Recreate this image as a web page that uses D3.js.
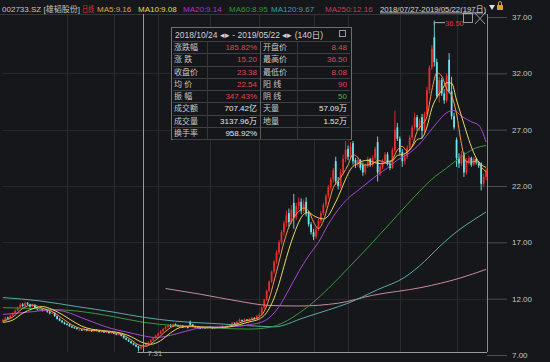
<!DOCTYPE html>
<html><head><meta charset="utf-8">
<script src="https://cdn.jsdelivr.net/npm/d3@7"></script>
<style>
html,body{margin:0;padding:0;background:#16171b;overflow:hidden;}
svg{display:block;}
text{font-family:"Liberation Sans","Noto Sans CJK SC",sans-serif;}
</style></head><body>
<svg id="c" width="550" height="362"></svg>
<script>
// ---------- DATA ----------
const opens = [
10.00,10.10,10.35,10.25,10.50,10.70,10.95,11.20,11.50,11.35,
11.60,11.50,11.30,11.45,11.20,11.00,11.10,10.95,11.00,10.85,
10.70,10.75,10.45,10.20,10.05,9.90,9.75,9.70,9.55,9.45,
9.40,9.20,9.25,9.20,9.30,9.15,9.20,9.10,9.25,9.15,
9.05,9.10,9.00,9.05,8.95,9.00,8.90,8.80,8.85,8.70,
8.50,8.35,8.20,8.05,7.90,7.75,7.55,7.70,7.85,8.00,
8.10,8.30,8.50,8.70,8.90,9.10,9.30,9.50,9.65,9.55,
9.75,9.65,9.55,9.60,9.45,9.50,9.95,9.70,9.55,9.45,
9.40,9.35,9.45,9.40,9.50,9.45,9.35,9.40,9.50,9.55,
9.45,9.50,9.60,9.70,9.85,9.80,9.95,10.10,10.00,10.15,
10.05,10.20,10.30,10.25,10.45,10.60,11.20,11.90,12.70,13.50,
14.40,15.30,16.10,17.00,17.90,18.70,19.60,18.80,20.50,19.20,
20.20,20.60,19.80,20.60,19.60,18.60,17.90,17.50,18.20,18.90,
19.60,20.30,21.10,21.90,22.60,24.20,22.40,22.00,23.20,24.40,
25.30,24.60,25.80,24.30,24.00,24.30,23.90,23.20,23.80,24.40,
23.90,24.50,25.90,23.20,23.70,24.20,24.80,24.00,23.60,25.20,
27.20,26.20,25.00,24.20,24.60,25.40,26.30,27.20,28.10,27.20,
28.10,26.90,28.40,30.50,32.50,35.20,33.00,30.00,31.40,30.20,
29.60,33.20,30.40,28.20,26.10,24.50,24.00,24.90,23.20,24.20,
24.50,23.90,24.40,24.10,24.00,22.20,22.80];
const highs = [
10.20,10.40,10.40,10.60,10.80,11.05,11.30,11.60,11.60,11.75,
11.70,11.55,11.55,11.50,11.25,11.20,11.15,11.10,11.05,10.90,
10.85,10.80,10.50,10.30,10.10,9.95,9.85,9.75,9.60,9.50,
9.45,9.35,9.30,9.40,9.35,9.25,9.25,9.30,9.30,9.20,
9.15,9.15,9.10,9.10,9.05,9.05,8.95,8.90,8.90,8.75,
8.55,8.40,8.25,8.10,7.95,7.80,7.80,7.95,8.10,8.20,
8.40,8.60,8.80,9.00,9.20,9.40,9.60,9.70,9.75,9.80,
9.80,9.70,9.70,9.65,9.55,9.55,10.05,9.75,9.60,9.50,
9.45,9.50,9.50,9.55,9.55,9.50,9.45,9.55,9.60,9.60,
9.55,9.65,9.75,9.95,9.90,10.05,10.25,10.15,10.25,10.20,
10.30,10.40,10.35,10.55,10.70,11.30,12.00,12.80,13.60,14.50,
15.40,16.30,17.20,18.10,18.90,19.80,20.00,20.30,21.30,20.50,
21.00,20.90,20.80,21.00,19.80,18.80,18.20,18.40,19.10,19.80,
20.50,21.30,22.10,22.80,23.60,24.60,22.80,23.50,24.80,26.00,
25.60,25.90,26.00,24.50,24.60,24.40,24.10,24.00,24.60,24.50,
24.70,25.50,26.40,23.90,24.40,25.00,25.00,24.20,25.40,28.70,
27.60,26.40,25.30,24.90,25.60,26.50,27.40,28.50,28.30,28.00,
28.40,28.60,30.80,32.70,34.50,36.50,33.30,31.70,31.60,30.60,
32.00,33.80,31.70,28.50,26.30,24.90,25.10,25.00,24.50,24.70,
24.60,24.60,24.50,24.20,24.10,23.10,23.60];
const lows = [
9.90,10.05,10.15,10.20,10.45,10.65,10.90,11.15,11.25,11.30,
11.40,11.20,11.25,11.15,10.95,10.95,10.85,10.90,10.75,10.60,
10.65,10.40,10.15,10.00,9.85,9.70,9.65,9.50,9.40,9.35,
9.25,9.15,9.15,9.15,9.10,9.10,9.05,9.05,9.10,9.00,
9.00,8.95,8.95,8.90,8.90,8.85,8.75,8.75,8.65,8.45,
8.30,8.15,8.00,7.85,7.70,7.31,7.50,7.65,7.80,7.95,
8.05,8.25,8.45,8.65,8.85,9.05,9.25,9.40,9.45,9.50,
9.60,9.50,9.50,9.40,9.40,9.35,9.60,9.50,9.40,9.35,
9.30,9.30,9.35,9.35,9.40,9.30,9.30,9.35,9.45,9.40,
9.40,9.45,9.55,9.65,9.70,9.75,9.90,9.95,9.95,10.00,
10.00,10.15,10.15,10.20,10.40,10.55,11.10,11.80,12.60,13.40,
14.20,15.10,15.90,16.80,17.60,18.40,18.40,18.60,18.20,19.00,
19.90,19.50,19.60,19.30,18.40,17.70,17.20,17.30,18.00,18.70,
19.40,20.10,20.90,21.60,22.30,22.10,21.70,21.80,23.00,24.10,
24.30,24.40,23.90,23.60,23.70,23.40,22.90,23.00,23.60,23.70,
23.70,24.30,22.40,22.90,23.50,24.00,23.80,23.40,23.50,25.00,
26.00,24.80,23.70,23.90,24.40,25.20,26.10,27.00,26.90,26.90,
26.20,26.70,28.20,30.20,32.30,32.60,29.80,29.40,30.00,29.30,
29.40,30.20,27.90,27.00,23.70,23.60,23.80,22.80,23.00,23.90,
23.70,23.80,23.90,23.60,21.60,21.90,22.50];
const closes = [
10.10,10.30,10.25,10.50,10.70,10.95,11.20,11.45,11.35,11.60,
11.50,11.30,11.45,11.20,11.05,11.10,10.95,11.00,10.85,10.70,
10.75,10.45,10.20,10.05,9.90,9.75,9.70,9.55,9.45,9.40,
9.30,9.25,9.20,9.30,9.15,9.20,9.10,9.25,9.15,9.05,
9.10,9.00,9.05,8.95,9.00,8.90,8.80,8.85,8.70,8.50,
8.35,8.20,8.05,7.90,7.75,7.60,7.70,7.85,8.00,8.10,
8.30,8.50,8.70,8.90,9.10,9.30,9.50,9.60,9.55,9.70,
9.65,9.55,9.60,9.45,9.50,9.40,9.70,9.55,9.45,9.40,
9.35,9.45,9.40,9.50,9.45,9.35,9.40,9.50,9.55,9.45,
9.50,9.60,9.70,9.85,9.80,9.95,10.10,10.00,10.15,10.05,
10.20,10.30,10.25,10.45,10.60,11.20,11.90,12.70,13.50,14.40,
15.30,16.10,17.00,17.90,18.70,19.40,18.80,19.90,19.20,20.20,
20.60,19.80,20.40,19.60,18.60,17.90,17.50,18.20,18.90,19.60,
20.30,21.10,21.90,22.60,23.40,22.40,22.00,23.20,24.40,25.20,
24.60,25.50,24.20,24.00,24.30,23.60,23.20,23.80,24.40,23.90,
24.50,25.30,23.20,23.70,24.20,24.80,24.00,23.60,25.20,27.00,
26.20,25.00,24.20,24.60,25.40,26.30,27.20,28.10,27.20,27.80,
26.90,28.40,30.50,32.50,34.20,33.00,30.00,31.40,30.20,29.60,
31.80,30.40,28.20,27.20,24.50,24.00,24.80,23.20,24.20,24.50,
23.90,24.40,24.10,23.80,22.20,22.80,23.38];

// moving-average lines: [day index, value]
const ma5 = [[0,10.0],[4,10.37],[8,11.13],[12,11.44],[16,11.15],[20,10.85],[24,10.27],[28,9.67],[32,9.32],[36,9.19],[40,9.13],[44,9.02],[48,8.85],[52,8.36],[55,7.9],[58,7.78],[62,8.32],[66,9.1],[70,9.6],[74,9.55],[78,9.52],[82,9.41],[86,9.42],[90,9.48],[94,9.69],[98,10.0],[102,10.19],[104,10.36],[106,10.88],[108,11.98],[110,13.56],[112,15.26],[114,17.0],[116,18.36],[118,19.2],[120,19.74],[122,20.04],[124,19.8],[126,18.8],[128,18.22],[130,18.9],[132,20.36],[134,21.86],[136,22.46],[138,23.08],[140,23.88],[142,24.78],[144,24.52],[146,23.86],[148,23.86],[150,23.96],[152,24.26],[154,24.18],[156,23.98],[158,24.36],[160,25.2],[162,25.52],[164,25.08],[166,25.54],[168,26.84],[170,27.44],[172,28.16],[174,30.5],[176,32.04],[178,31.76],[180,30.6],[182,30.04],[184,28.42],[186,25.74],[188,24.14],[190,24.12],[192,24.22],[194,23.68],[196,23.26]];
const ma10 = [[0,9.9],[4,10.1],[8,10.7],[12,11.1],[16,11.3],[20,11.04],[24,10.6],[28,10.05],[32,9.56],[36,9.29],[40,9.18],[44,9.09],[48,8.94],[52,8.63],[56,8.16],[60,7.95],[64,8.28],[68,8.96],[72,9.45],[76,9.57],[80,9.5],[84,9.47],[88,9.44],[92,9.5],[96,9.7],[100,9.94],[104,10.2],[106,10.51],[108,11.12],[110,12.06],[112,13.32],[114,14.87],[116,16.38],[118,17.67],[120,18.78],[122,19.49],[124,19.65],[126,19.37],[128,19.17],[130,19.08],[132,19.36],[134,20.14],[136,21.04],[138,22.09],[140,23.08],[142,23.75],[144,23.98],[146,24.22],[148,24.28],[150,24.14],[152,24.02],[154,23.98],[156,24.18],[158,24.24],[160,24.72],[162,24.79],[164,25.0],[166,25.47],[168,26.12],[170,26.27],[172,27.24],[174,28.91],[176,29.86],[178,30.49],[180,31.16],[182,31.13],[184,29.63],[186,28.21],[188,26.79],[190,25.49],[192,24.48],[194,23.91],[196,23.65]];
const ma20 = [[0,10.6],[10,10.8],[20,11.0],[26,10.8],[32,10.3],[38,9.8],[44,9.35],[50,9.05],[56,8.75],[62,8.55],[68,8.75],[74,9.1],[80,9.4],[88,9.5],[96,9.55],[100,9.7],[104,9.85],[108,10.3],[112,11.3],[116,12.8],[120,14.4],[124,15.8],[128,17.0],[132,18.6],[136,19.9],[140,20.9],[144,21.6],[148,22.3],[152,23.0],[156,23.6],[160,24.3],[164,24.8],[168,25.5],[172,26.5],[176,27.6],[180,28.5],[183,28.7],[186,28.2],[190,27.7],[193,27.4],[196,25.9]];
const ma60 = [[0,11.2],[15,11.1],[30,10.9],[45,10.4],[57,9.9],[70,9.6],[85,9.4],[100,9.3],[108,9.45],[114,9.9],[120,10.7],[126,11.7],[132,12.9],[140,14.7],[150,17.0],[160,19.4],[168,21.3],[174,22.6],[180,23.6],[186,24.6],[191,25.3],[196,25.6]];
const ma120 = [[0,12.1],[15,11.8],[30,11.3],[45,10.8],[57,10.35],[70,10.0],[85,9.8],[100,9.6],[110,9.5],[122,10.3],[132,11.0],[140,11.6],[152,12.8],[163,13.9],[171,15.3],[177,16.6],[185,18.1],[191,19.0],[196,19.7]];
const ma250 = [[66,12.9],[80,12.4],[95,11.8],[108,11.4],[120,11.35],[136,11.6],[150,12.3],[170,13.0],[185,13.8],[196,14.6]];

const yTickValues = [7,12,17,22,27,32,37];
const monthStarts = [26,45,63,84,104,126,140,161,184];

const headerItems = [
  {t:"002733.SZ [雄韬股份]", c:"#c4c4c4"},
  {t:"日线", c:"#e03030"},
  {t:"MA5:9.16", c:"#e8a23a"},
  {t:"MA10:9.08", c:"#e4de48"},
  {t:"MA20:9.14", c:"#b030c0"},
  {t:"MA60:8.95", c:"#2f9a35"},
  {t:"MA120:9.67", c:"#3aa0a0"},
  {t:"MA250:12.16", c:"#c83a5a"},
  {t:"2018/07/27-2019/05/22(197日)", c:"#d8d8d8"}
];
const tableTitle = "2018/10/24 ◂▸ - 2019/05/22 ◂▸ (140日)";
const tableLeft = ["涨跌幅","涨 跌","收盘价","均 价","振 幅","成交额","成交量","换手率"];
const tableLeftVals = ["185.82%","15.20","23.38","22.54","347.43%","707.42亿","3137.96万","958.92%"];
const tableRight = ["开盘价","最高价","最低价","阳 线","阴 线","天量","地量",""];
const tableRightVals = ["8.48","36.50","8.08","90","50","57.09万","1.52万",""];
const highLabel = "36.50", lowLabel = "7.31";
const highIdx = 175, lowIdx = 55, cursorIdx = 57;

// ---------- DRAW ----------
const W = 550, H = 362;
const plot = {left:2, right:487, top:14, bottom:352};
const svg = d3.select("#c");
svg.append("rect").attr("width",W).attr("height",H).attr("fill","#16171b");

const x = d3.scaleBand().domain(d3.range(closes.length)).range([plot.left, plot.right]).paddingInner(0.28);
const bw = x.bandwidth();
const cx = i => x(i) + bw/2;
const y = d3.scaleLinear().domain([7,37]).range([355,17]);

svg.append("defs").append("clipPath").attr("id","pc").append("rect")
  .attr("x",plot.left).attr("y",plot.top).attr("width",plot.right-plot.left).attr("height",plot.bottom-plot.top);

// grid
const grid = svg.append("g");
grid.selectAll("line.h").data(yTickValues.filter(v=>v>7 && v<37)).join("line")
  .attr("x1",plot.left).attr("x2",plot.right)
  .attr("y1",d=>Math.round(y(d))+0.5).attr("y2",d=>Math.round(y(d))+0.5)
  .attr("stroke","#25272c");
grid.selectAll("line.v").data(monthStarts).join("line")
  .attr("x1",d=>Math.round(cx(d))+0.5).attr("x2",d=>Math.round(cx(d))+0.5)
  .attr("y1",plot.top).attr("y2",plot.bottom)
  .attr("stroke","#2a2c31");
grid.append("line").attr("x1",0).attr("x2",plot.right).attr("y1",plot.top+0.5).attr("y2",plot.top+0.5).attr("stroke","#34363b");

// axis
const axis = d3.axisRight(y).tickValues(yTickValues).tickFormat(d3.format(".2f")).tickSize(20).tickPadding(5);
const ag = svg.append("g").attr("transform",`translate(${plot.right},0)`).call(axis);
ag.select(".domain").remove();
ag.selectAll(".tick line").attr("stroke","#4a4c52");
ag.selectAll(".tick text").attr("fill","#c6c6c6").attr("font-size","8px").attr("font-family","Liberation Sans");

// candles
const up = "#ea2c2c", down = "#70e4ea";
const cg = svg.append("g").attr("clip-path","url(#pc)");
const cd = d3.range(closes.length).map(i=>({i,o:opens[i],h:highs[i],l:lows[i],c:closes[i]}));
cg.selectAll("line.w").data(cd).join("line")
  .attr("x1",d=>cx(d.i)).attr("x2",d=>cx(d.i))
  .attr("y1",d=>y(d.h)).attr("y2",d=>y(d.l))
  .attr("stroke",d=>d.c>=d.o?up:down).attr("stroke-width",0.9);
cg.selectAll("rect.b").data(cd).join("rect")
  .attr("x",d=>x(d.i)).attr("width",bw)
  .attr("y",d=>y(Math.max(d.o,d.c)))
  .attr("height",d=>Math.max(1,Math.abs(y(d.o)-y(d.c))))
  .attr("fill",d=>d.c>=d.o?up:down);

// MA lines
const lg = svg.append("g").attr("clip-path","url(#pc)");
const line = d3.line().x(d=>cx(d[0])).y(d=>y(d[1])).curve(d3.curveMonotoneX);
[[ma250,"#c98a98"],[ma120,"#58aaa8"],[ma60,"#3d963d"],[ma20,"#a848d0"],[ma10,"#ead866"],[ma5,"#f29a4a"]]
  .forEach(([s,c])=>lg.append("path").attr("d",line(s)).attr("fill","none").attr("stroke",c).attr("stroke-width",1));

// plot borders
svg.append("line").attr("x1",plot.right+0.5).attr("x2",plot.right+0.5).attr("y1",plot.top).attr("y2",plot.bottom)
  .attr("stroke","#8c8c8c");

// crosshair
const chx = Math.round(cx(cursorIdx))+0.5;
svg.append("line").attr("x1",chx).attr("x2",chx).attr("y1",plot.top).attr("y2",plot.bottom+1).attr("stroke","#9a9a9a");
const lowY = Math.round(y(lows[lowIdx]))+0.5;
svg.append("line").attr("x1",cx(lowIdx)-1).attr("x2",plot.right).attr("y1",lowY).attr("y2",lowY).attr("stroke","#9a9a9a");
svg.append("text").attr("x",cx(lowIdx)+9).attr("y",lowY+3).attr("font-size","7.5px").attr("fill","#86bcb2").text(lowLabel);

// high marker
const hy = y(highs[highIdx]);
svg.append("line").attr("x1",cx(highIdx)).attr("x2",445).attr("y1",hy).attr("y2",hy).attr("stroke","#b0b0b0");
svg.append("line").attr("x1",cx(highIdx)).attr("x2",cx(highIdx)).attr("y1",hy-2).attr("y2",hy+2).attr("stroke","#b0b0b0");
svg.append("text").attr("x",445).attr("y",hy+3).attr("font-size","7.5px").attr("fill","#e0303a").text(highLabel);
// window icons
svg.append("rect").attr("x",463.5).attr("y",13.5).attr("width",9).attr("height",9).attr("fill","none").attr("stroke","#9a9a9a");
svg.append("path").attr("d","M475,13 L485,24 M485,13 L475,24").attr("stroke","#9a9a9a").attr("fill","none");

// header
const hx = [2,82,97,138,183,229,271,325,380];
const hw = [78,12,null,null,null,null,null,null,106];
const hg = svg.append("g");
headerItems.forEach((h,k)=>{
  const t = hg.append("text").attr("x",hx[k]).attr("y",11.5).attr("font-size","8px").attr("fill",h.c).text(h.t);
  if(hw[k]) t.attr("textLength",hw[k]).attr("lengthAdjust","spacingAndGlyphs");
  if(k===8) t.attr("text-decoration","underline");
});
hg.append("path").attr("d","M489,5 L495,5 L492,10 Z").attr("fill","#e0e0e0");
hg.append("rect").attr("x",497).attr("y",5).attr("width",6).attr("height",5).attr("fill","#d8a030");
hg.append("path").attr("d","M498.5,5 V3 A1.5,1.5 0 0 1 501.5,3 V5").attr("fill","none").attr("stroke","#d8a030");

// info table
const tb = {x:171, y:27, w:180, titleH:14, rowH:12.25};
const tg = svg.append("g");
const nRows = tableLeft.length;
const tH = tb.titleH + nRows*tb.rowH;
tg.append("rect").attr("x",tb.x+0.5).attr("y",tb.y+0.5).attr("width",tb.w).attr("height",tH)
  .attr("fill","#15161a").attr("stroke","#6e6e6e");
tg.append("text").attr("x",tb.x+4).attr("y",tb.y+10.5).attr("font-size","8.5px").attr("fill","#d0d0d0").text(tableTitle);
tg.append("rect").attr("x",tb.x+tb.w-11.5).attr("y",tb.y+3.5).attr("width",6).attr("height",6).attr("fill","none").attr("stroke","#9a9a9a");
for(let r=0;r<=nRows;r++){
  const yy = Math.round(tb.y+tb.titleH+r*tb.rowH)+0.5;
  tg.append("line").attr("x1",tb.x+2).attr("x2",tb.x+tb.w-1).attr("y1",yy).attr("y2",yy).attr("stroke","#3e4046");
}
[tb.x+36, tb.x+89, tb.x+126].forEach((vx,k)=>{
  tg.append("line").attr("x1",vx+0.5).attr("x2",vx+0.5).attr("y1",tb.y+tb.titleH).attr("y2",tb.y+tH)
    .attr("stroke",k===1?"#5a5c62":"#33353a");
});
const leftColors = ["#e04452","#e04452","#e04452","#e04452","#e04452","#e6e6e6","#e6e6e6","#e6e6e6"];
const rightColors = ["#e04452","#e04452","#e04452","#e04452","#3cba4a","#e6e6e6","#e6e6e6","#e6e6e6"];
tableLeft.forEach((lab,r)=>{
  const by = tb.y+tb.titleH+(r+0.5)*tb.rowH+3;
  tg.append("text").attr("x",tb.x+3).attr("y",by).attr("font-size","8px").attr("fill","#c8c8c8").text(lab);
  tg.append("text").attr("x",tb.x+86).attr("y",by).attr("font-size","8px").attr("text-anchor","end").attr("fill",leftColors[r]).text(tableLeftVals[r]);
  tg.append("text").attr("x",tb.x+92).attr("y",by).attr("font-size","8px").attr("fill","#c8c8c8").text(tableRight[r]);
  tg.append("text").attr("x",tb.x+176).attr("y",by).attr("font-size","8px").attr("text-anchor","end").attr("fill",rightColors[r]).text(tableRightVals[r]);
});
</script>
</body></html>
